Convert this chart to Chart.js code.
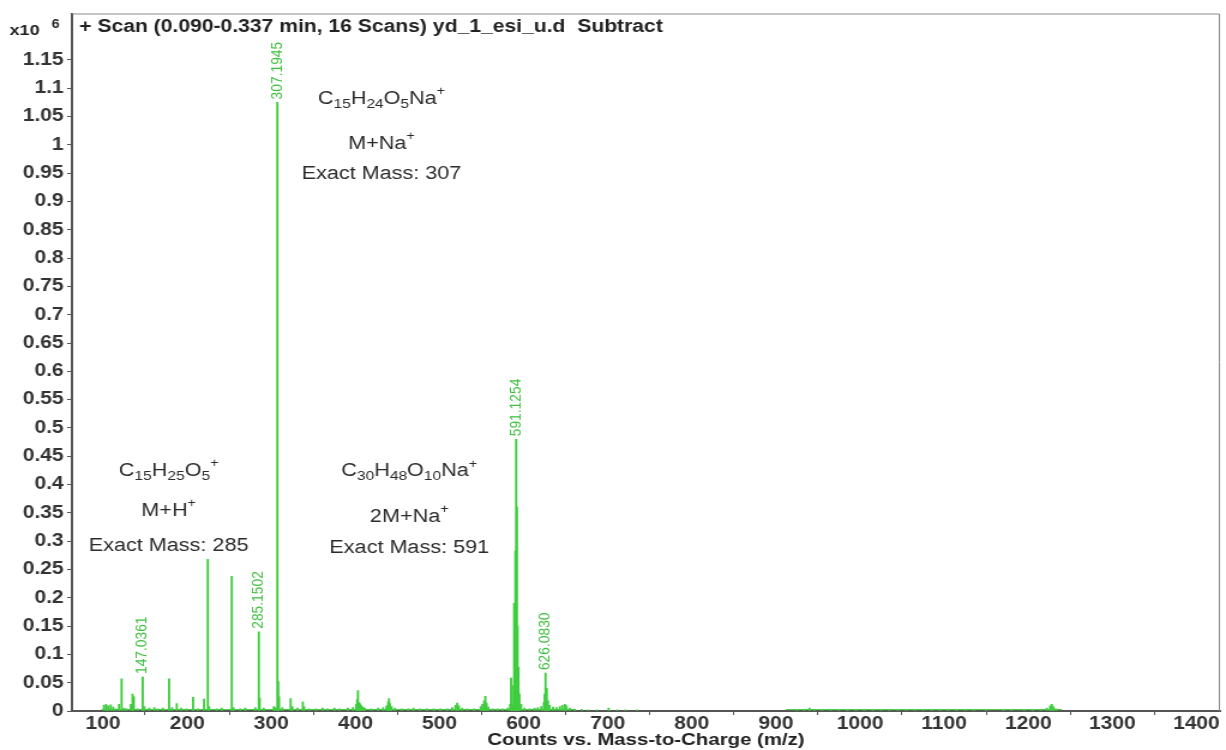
<!DOCTYPE html>
<html>
<head>
<meta charset="utf-8">
<script src="https://cdn.jsdelivr.net/npm/chart.js@4.4.1/dist/chart.umd.min.js"></script>
<style>
  html, body { margin: 0; padding: 0; background: #fff; overflow: hidden; }
  /* the reference screenshot is stretched horizontally, so the canvas is too */
  #wrap { width: 1022px; height: 750px; transform: scaleX(1.1996); transform-origin: 0 0; }
</style>
</head>
<body>
<div id="wrap"><canvas id="ms" width="1022" height="750"></canvas></div>
<script>
// spectrum, counts in units of 10^6
const peakMz = [
  101, 103.5, 106, 109, 112, 115, 119, 122, 125, 128, 133, 135, 136.5, 141, 147.04, 149,
  155, 161, 165, 171, 178.5, 182, 187.6, 193, 199, 207, 213, 220, 224.5, 226, 235, 241,
  253, 255, 263, 269, 281, 285.15, 286.2, 291, 303, 305, 307.19, 308.2, 309.2, 313,
  323, 325, 331, 337.5, 339, 345, 353, 361, 367, 375, 381, 391, 397,
  401, 402, 403, 404, 405, 406, 407, 409, 411, 419, 427, 433, 437, 439, 440, 441, 443, 447,
  455, 463, 469, 477, 485, 493, 501, 509, 515, 519, 521, 523, 527, 533, 541,
  549, 551, 553, 554.5, 556, 558, 563, 569, 575, 581,
  584, 585.1, 586.3, 587.5, 588.7, 589.5, 590.2, 591.13, 592, 592.8, 593.8, 595, 597,
  601, 607, 613, 617, 621, 624, 625, 626.08, 627.5, 629, 631, 635, 639, 643, 646, 649, 651, 655,
  661, 669, 677, 687, 701, 711, 721, 735,
  925, 933, 940, 946, 955, 965, 975, 985, 995, 1005, 1015, 1025, 1035, 1045, 1055, 1065,
  1075, 1085, 1095, 1105, 1115, 1125, 1135, 1150, 1170, 1180, 1195, 1205, 1215,
  1222, 1226, 1228, 1230, 1233
];
const peakCounts = [
  0.010, 0.012, 0.009, 0.011, 0.007, 0.004, 0.012, 0.057, 0.005, 0.004, 0.012, 0.030, 0.025, 0.004, 0.060, 0.008,
  0.005, 0.006, 0.004, 0.005, 0.057, 0.006, 0.013, 0.005, 0.004, 0.024, 0.004, 0.021, 0.268, 0.008, 0.004, 0.005,
  0.238, 0.006, 0.004, 0.005, 0.006, 0.140, 0.023, 0.005, 0.008, 0.006, 1.075, 0.052, 0.025, 0.006,
  0.022, 0.008, 0.005, 0.016, 0.008, 0.004, 0.004, 0.005, 0.004, 0.005, 0.004, 0.005, 0.006,
  0.012, 0.020, 0.036, 0.015, 0.014, 0.011, 0.009, 0.007, 0.005, 0.004, 0.005, 0.006, 0.009, 0.016, 0.022, 0.013, 0.008, 0.005,
  0.004, 0.004, 0.005, 0.004, 0.004, 0.004, 0.004, 0.004, 0.006, 0.010, 0.014, 0.009, 0.005, 0.004, 0.004,
  0.008, 0.012, 0.018, 0.026, 0.014, 0.007, 0.004, 0.004, 0.004, 0.005,
  0.012, 0.058, 0.045, 0.010, 0.190, 0.120, 0.283, 0.480, 0.360, 0.150, 0.077, 0.030, 0.012,
  0.005, 0.004, 0.005, 0.006, 0.008, 0.015, 0.030, 0.067, 0.040, 0.018, 0.010, 0.007, 0.006, 0.008, 0.010, 0.012, 0.009, 0.005,
  0.003, 0.003, 0.002, 0.002, 0.005, 0.002, 0.002, 0.002,
  0.002, 0.003, 0.005, 0.003, 0.002, 0.002, 0.002, 0.002, 0.002, 0.002, 0.002, 0.002, 0.002, 0.002, 0.002, 0.002,
  0.002, 0.002, 0.002, 0.002, 0.002, 0.002, 0.002, 0.002, 0.002, 0.002, 0.002, 0.002, 0.003,
  0.005, 0.009, 0.012, 0.008, 0.004
];
// noise floor under the spectrum (null = break)
const floorMz = [98, 662, 780, 912, 1240];
const floorCounts = [0.0025, 0.0025, null, 0.0025, 0.0025];

// labelled peaks
const labelMz = [147.0361, 285.1502, 307.1945, 591.1254, 626.0830];
const labelTop = [0.060, 0.140, 1.075, 0.480, 0.067];

// ion assignments: text lines, centre m/z, line heights (counts)
const ionText = [
  ['C_{15}H_{24}O_{5}Na^{+}', 'M+Na^{+}', 'Exact Mass: 307'],
  ['C_{15}H_{25}O_{5}^{+}', 'M+H^{+}', 'Exact Mass: 285'],
  ['C_{30}H_{48}O_{10}Na^{+}', '2M+Na^{+}', 'Exact Mass: 591']
];
const ionMz = [431, 178, 464];
const ionLevels = [
  [1.081, 1.002, 0.949],
  [0.424, 0.354, 0.292],
  [0.423, 0.343, 0.287]
];

const xTickStep = 100;
const yTickStep = 0.05;
const yTickTop = 1.15;

const GREEN = '#3fcc3f';
const LABEL_GREEN = '#3dbf3d';
const AXIS = '#555';
const TEXT = '#2b2b2b';

// draw a formula like C_{15}H^{+} with sub/superscripts, centred on x
function drawFormula(ctx, str, x, y) {
  const parts = str.match(/_\{[^}]*\}|\^\{[^}]*\}|[^_^]+/g);
  const segs = parts.map(p => {
    if (p[0] === '_') return { t: p.slice(2, -1), font: '13px Arial', dy: 5 };
    if (p[0] === '^') return { t: p.slice(2, -1), font: '12px Arial', dy: -7 };
    return { t: p, font: '18px Arial', dy: 0 };
  });
  let w = 0;
  segs.forEach(s => { ctx.font = s.font; s.w = ctx.measureText(s.t).width; w += s.w; });
  let cx = x - w / 2;
  ctx.textAlign = 'left';
  ctx.textBaseline = 'middle';
  segs.forEach(s => { ctx.font = s.font; ctx.fillText(s.t, cx, y + s.dy); cx += s.w; });
}

const decorPlugin = {
  id: 'decor',
  afterDraw(chart) {
    const { ctx, chartArea: a, scales: { x, y } } = chart;
    ctx.save();
    // frame top + right
    ctx.strokeStyle = '#8a8a8a';
    ctx.lineWidth = 1;
    ctx.beginPath();
    ctx.moveTo(a.left, a.top + 0.5);
    ctx.lineTo(a.right - 0.5, a.top + 0.5);
    ctx.lineTo(a.right - 0.5, a.bottom);
    ctx.stroke();

    // header
    ctx.fillStyle = '#222';
    ctx.font = 'bold 17.6px Arial';
    ctx.textAlign = 'left';
    ctx.textBaseline = 'middle';
    ctx.fillText('+ Scan (0.090-0.337 min, 16 Scans) yd_1_esi_u.d  Subtract', a.left + 6, 27);
    ctx.font = 'bold 15px Arial';
    ctx.fillText('x10', 8, 31);
    ctx.font = 'bold 12px Arial';
    ctx.fillText('6', 43, 25);

    // peak labels
    ctx.fillStyle = LABEL_GREEN;
    ctx.font = '12px Arial';
    labelMz.forEach((m, i) => {
      const px = x.getPixelForValue(m);
      const py = y.getPixelForValue(labelTop[i]) - 3;
      ctx.save();
      ctx.translate(px, py);
      ctx.rotate(-Math.PI / 2);
      ctx.scale(1.15, 1);
      ctx.textAlign = 'left';
      ctx.textBaseline = 'middle';
      ctx.fillText(m.toFixed(4), 0, 0);
      ctx.restore();
    });

    // ion assignments
    ctx.fillStyle = TEXT;
    ionText.forEach((lines, i) => {
      const px = x.getPixelForValue(ionMz[i]);
      lines.forEach((t, j) => drawFormula(ctx, t, px, y.getPixelForValue(ionLevels[i][j])));
    });
    ctx.restore();
  }
};

new Chart(document.getElementById('ms'), {
  type: 'bar',
  data: {
    datasets: [
      {
        label: 'spectrum',
        data: peakMz.map((m, i) => ({ x: m, y: peakCounts[i] })),
        backgroundColor: GREEN,
        borderWidth: 0,
        barThickness: 1.2,
        order: 1
      },
      {
        type: 'line',
        label: 'floor',
        data: floorMz.map((m, i) => ({ x: m, y: floorCounts[i] })),
        borderColor: GREEN,
        borderWidth: 1,
        pointRadius: 0,
        spanGaps: false,
        order: 2
      }
    ]
  },
  options: {
    responsive: false,
    animation: false,
    devicePixelRatio: 1,
    layout: { padding: { top: 11, right: 5, left: 0, bottom: 0 } },
    plugins: { legend: { display: false }, tooltip: { enabled: false } },
    scales: {
      x: {
        type: 'linear',
        min: 63,
        max: 1428,
        offset: false,
        afterFit(s) { s.height = 39; },
        border: { display: true, color: AXIS, width: 2 },
        grid: { drawOnChartArea: false, drawTicks: true, tickLength: 4, color: AXIS },
        ticks: {
          stepSize: xTickStep,
          includeBounds: false,
          autoSkip: false,
          maxRotation: 0,
          padding: 0,
          color: '#333',
          font: { family: 'Arial', size: 17.5, weight: 'bold', lineHeight: 1 },
          callback: v => String(v)
        },
        title: {
          display: true,
          text: 'Counts vs. Mass-to-Charge (m/z)',
          color: '#222',
          padding: 0,
          font: { family: 'Arial', size: 17, weight: 'bold', lineHeight: 1.1 }
        }
      },
      y: {
        min: 0,
        max: 1.232,
        afterFit(s) { s.width = 60; },
        afterBuildTicks(s) { s.ticks = s.ticks.filter(t => t.value <= yTickTop + 1e-9); },
        border: { display: true, color: AXIS, width: 2 },
        grid: { drawOnChartArea: false, drawTicks: true, tickLength: 4, color: AXIS },
        ticks: {
          stepSize: yTickStep,
          includeBounds: false,
          autoSkip: false,
          padding: 3,
          color: '#333',
          font: { family: 'Arial', size: 17.5, weight: 'bold' },
          callback: v => String(+v.toFixed(2))
        }
      }
    }
  },
  plugins: [decorPlugin]
});
</script>
</body>
</html>
